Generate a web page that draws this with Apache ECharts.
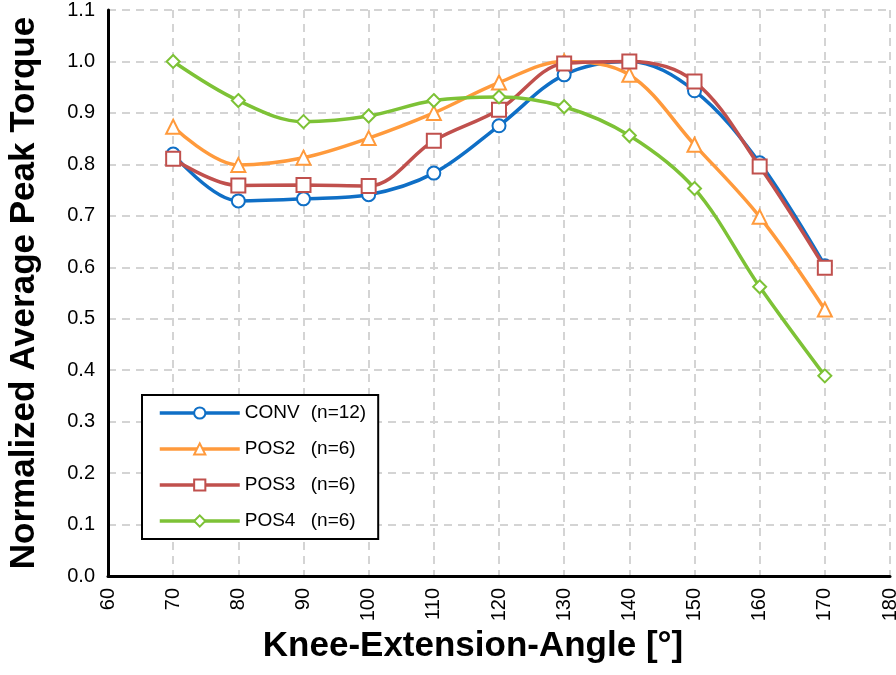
<!DOCTYPE html>
<html><head><meta charset="utf-8">
<script src="https://cdn.jsdelivr.net/npm/echarts@6/dist/echarts.min.js"></script>
<style>html,body{margin:0;padding:0;background:#fff}#c{width:896px;height:675px}</style>
</head><body><div id="c"></div>
<script>
const angles = [70, 80, 90, 100, 110, 120, 130, 140, 150, 160, 170];
const conv = [0.820, 0.729, 0.733, 0.741, 0.783, 0.875, 0.974, 1.000, 0.943, 0.803, 0.603];
const pos2 = [0.873, 0.799, 0.813, 0.851, 0.900, 0.959, 1.000, 0.974, 0.838, 0.698, 0.518];
const pos3 = [0.811, 0.759, 0.760, 0.758, 0.846, 0.906, 0.996, 1.000, 0.961, 0.796, 0.599];
const pos4 = [1.000, 0.924, 0.883, 0.894, 0.924, 0.931, 0.912, 0.856, 0.753, 0.562, 0.389];
const groupNames = ['CONV', 'POS2', 'POS3', 'POS4'];
const groupN = ['(n=12)', '(n=6)', '(n=6)', '(n=6)'];
const xTicks = {min: 60, max: 180, step: 10};
const yTicks = {min: 0, max: 1.1, step: 0.1};

const colors = ['#0F6FC6', '#FF9A3C', '#C0504D', '#7DC236'];
const symbols = ['emptyCircle', 'emptyTriangle', 'emptyRect', 'emptyDiamond'];
const sizes = [13, 14, 14, 13];
const dataSets = [conv, pos2, pos3, pos4];
const seriesNames = groupNames.map((g, i) => g + ' ' + groupN[i]);

const chart = echarts.init(document.getElementById('c'), null, {renderer: 'canvas'});
const fontFam = '"Liberation Sans", Arial, sans-serif';
const gridLine = {show: true, lineStyle: {color: '#d4d4d4', type: [8, 6], width: 2}};
chart.setOption({
  animation: false,
  color: colors,
  grid: {left: 108, right: 6, top: 10, bottom: 99, outerBoundsMode: 'none'},
  xAxis: {
    type: 'value', min: xTicks.min, max: xTicks.max, interval: xTicks.step,
    name: 'Knee-Extension-Angle [°]', nameLocation: 'middle', nameGap: 42,
    nameTextStyle: {fontFamily: fontFam, fontWeight: 'bold', fontSize: 35, color: '#000',
      verticalAlign: 'top', padding: [0, 52, 0, 0]},
    axisLine: {lineStyle: {color: '#000', width: 3}},
    axisTick: {show: false},
    axisLabel: {rotate: 90, fontFamily: fontFam, fontSize: 20, color: '#000', margin: 12},
    splitLine: gridLine
  },
  yAxis: {
    type: 'value', min: yTicks.min, max: yTicks.max, interval: yTicks.step,
    name: 'Normalized Average Peak Torque', nameLocation: 'middle', nameGap: 66,
    nameTextStyle: {fontFamily: fontFam, fontWeight: 'bold', fontSize: 35, color: '#000'},
    axisLine: {show: true, lineStyle: {color: '#000', width: 3}},
    axisTick: {show: false},
    axisLabel: {fontFamily: fontFam, fontSize: 20, color: '#000', margin: 13,
      formatter: v => v.toFixed(1)},
    splitLine: gridLine
  },
  legend: {
    orient: 'vertical', left: 142, top: 395,
    backgroundColor: '#fff', borderColor: '#000', borderWidth: 2,
    padding: [8, 12, 8, 16], itemGap: 16, itemWidth: 80, itemHeight: 14,
    lineStyle: {width: 3.5},
    textStyle: {fontFamily: fontFam, fontSize: 19, color: '#000', lineHeight: 20,
      rich: {a: {fontFamily: fontFam, fontSize: 19, color: '#000', width: 66},
             b: {fontFamily: fontFam, fontSize: 19, color: '#000'}}},
    formatter: name => {
      const i = seriesNames.indexOf(name);
      return '{a|' + groupNames[i] + '}{b|' + groupN[i] + '}';
    },
    data: seriesNames
  },
  series: dataSets.map((d, i) => ({
    name: seriesNames[i], type: 'line', smooth: 0.35,
    data: angles.map((a, j) => [a, d[j]]),
    symbol: symbols[i], symbolSize: sizes[i],
    lineStyle: {width: 3.5, color: colors[i]},
    itemStyle: {color: colors[i], borderWidth: 1.8, borderColor: colors[i]},
    z: 2 + i
  }))
});
</script></body></html>
